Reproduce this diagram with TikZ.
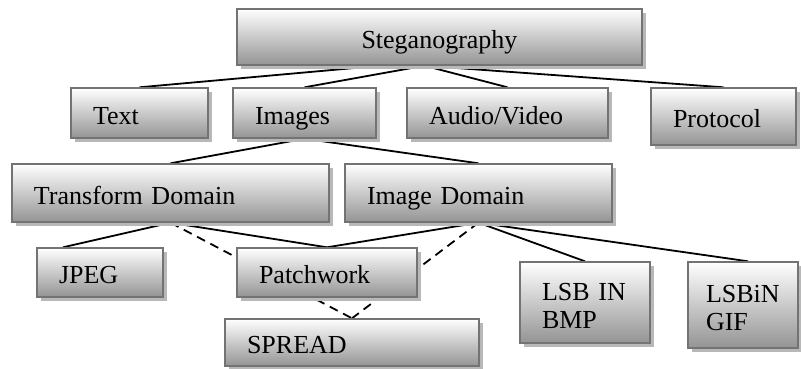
\documentclass[tikz,border=0pt]{standalone}
\usepackage{fontspec}
\setmainfont{Liberation Serif}
\usetikzlibrary{shadows,backgrounds}

\begin{document}
\begin{tikzpicture}[x=1pt, y=-1pt,
    box/.style={rectangle, draw=black!55, line width=1.4pt, top color=white, bottom color=black!42,
      drop shadow={shadow xshift=4pt, shadow yshift=-4pt, fill=black!28, opacity=1},
      inner xsep=22pt, inner ysep=0pt, align=left, text width=#1,
      text height=22pt, text depth=0pt,
      font=\fontsize{26}{28}\selectfont},
    two lines/.style={text depth=27pt},
    link/.style={line width=1.8pt, black},
    hidden link/.style={link, dash pattern=on 9pt off 6pt}]
  \useasboundingbox (0,0) rectangle (801,368);

  \node[box=361pt, align=center, minimum height=56pt] (steg) at (439.5,37) {Steganography};

  \node[box=93pt, minimum height=50pt] (text) at (139.5,113) {Text};
  \node[box=99pt, minimum height=50pt] (images) at (304.5,113) {Images};
  \node[box=157pt, minimum height=50pt] (av) at (507.5,113) {Audio/Video};
  \node[box=101pt, minimum height=57pt] (protocol) at (723.5,116.5) {Protocol};

  \node[box=273pt, minimum height=58pt] (transform) at (170.5,193) {Transform Domain};
  \node[box=223pt, minimum height=58pt] (imgdomain) at (478.5,193) {Image Domain};

  \node[box=82pt, minimum height=49pt] (jpeg) at (100,272.5) {JPEG};
  \node[box=136pt, minimum height=49pt] (patch) at (327,272.5) {Patchwork};
  \node[box=210pt, minimum height=47pt] (spread) at (352,342.5) {SPREAD};
  \node[box=86pt, two lines, minimum height=81pt] (lsbbmp) at (585,302.5) {LSB IN\\BMP};
  \node[box=74pt, two lines, inner xsep=18pt, minimum height=86pt] (lsbgif) at (743,305) {LSBiN\\GIF};

  \begin{pgfonlayer}{background}
    \path[link]
      ([xshift=-59.5pt]steg.south) edge (text.north)
      ([xshift=-15pt]steg.south) edge (images.north)
                                 edge (av.north)
                                 edge (protocol.north)
      (images.south) edge (transform.north)
                     edge (imgdomain.north)
      (transform.south) edge ([xshift=-37pt]jpeg.north)
                        edge (patch.north)
      (imgdomain.south) edge (patch.north)
                        edge (lsbbmp.north)
                        edge ([xshift=5pt]lsbgif.north);
    \path[hidden link]
      (transform.south) edge (spread.north)
      (imgdomain.south) edge (spread.north);
  \end{pgfonlayer}
\end{tikzpicture}
\end{document}
